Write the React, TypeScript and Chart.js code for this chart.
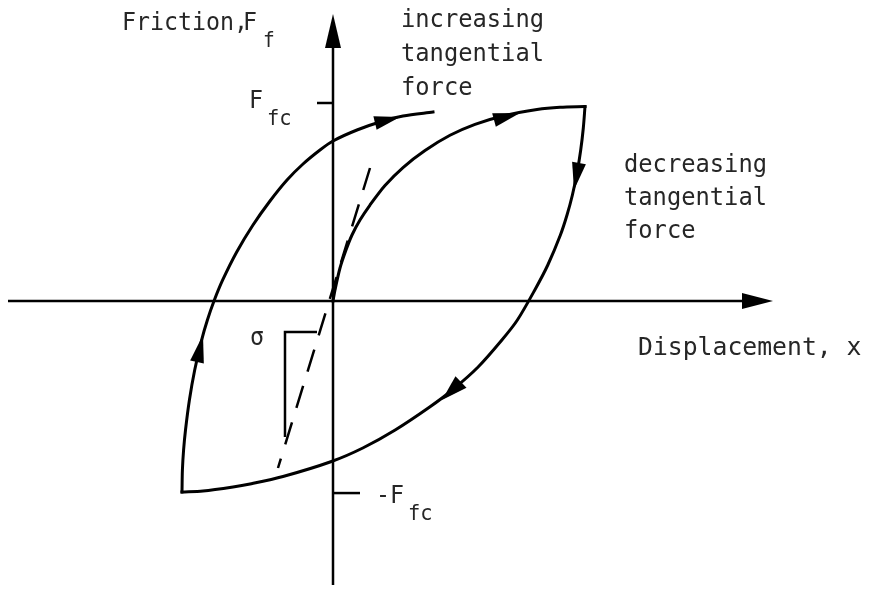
import React, { useEffect, useRef } from "react";
import { Chart, registerables } from "chart.js";
Chart.register(...registerables);

// Normalised units: displacement 1 = reversal point, friction 1 = F_fc
const initialX = [0, 0.0079, 0.0278, 0.0516, 0.0754, 0.1071, 0.1468, 0.2063, 0.2778, 0.3651, 0.4643, 0.5635, 0.6746, 0.8095, 0.9008, 1.0];
const initialY = [0, 0.0556, 0.1667, 0.2576, 0.3333, 0.4091, 0.4848, 0.5833, 0.6742, 0.7601, 0.8369, 0.8924, 0.9343, 0.9672, 0.9788, 0.9823];

const decreasingX = [1.0, 0.9933, 0.983, 0.969, 0.95, 0.9286, 0.9024, 0.8524, 0.8008, 0.7317, 0.6702, 0.5758, 0.4734, 0.3837, 0.2468, 0.1183, -0.006, -0.1984, -0.3294, -0.3968, -0.5159, -0.5992];
const decreasingY = [0.9823, 0.8737, 0.7626, 0.6515, 0.5354, 0.4343, 0.3333, 0.1818, 0.0556, -0.096, -0.197, -0.3333, -0.4495, -0.5354, -0.6515, -0.7424, -0.8106, -0.8864, -0.9242, -0.9394, -0.9596, -0.9646];

const increasingX = [-0.5992, -0.5976, -0.5929, -0.5853, -0.5698, -0.5488, -0.5214, -0.4984, -0.4722, -0.4377, -0.3821, -0.3175, -0.25, -0.1825, -0.119, -0.0516, 0, 0.0952, 0.1984, 0.2778, 0.3968];
const increasingY = [-0.9646, -0.8535, -0.7525, -0.6515, -0.5, -0.3485, -0.197, -0.096, 0, 0.1061, 0.2475, 0.3838, 0.5051, 0.6111, 0.6919, 0.7626, 0.8081, 0.8636, 0.9091, 0.9343, 0.9545];

const tangentX = [0.1468, -0.2183];
const tangentY = [0.6717, -0.8434];

const slopeX = [-0.0635, -0.1905, -0.1905];
const slopeY = [-0.1566, -0.1566, -0.6869];

const xAxisX = [-1.2897, 1.63];
const xAxisY = [0, 0];
const yAxisX = [0, 0];
const yAxisY = [-1.4343, 1.29];

const tickLevels = [1.0, -0.97];
const tickFromX = [-0.0635, 0];
const tickToX = [0, 0.1071];

// arrowheads: tip and a point behind the tip along the curve
const arrowTipX = [0.7421, 0.9563, 0.4325, -0.5159, 0.2659, 0, 1.746];
const arrowTipY = [0.9495, 0.5606, -0.5, -0.1717, 0.9293, 1.4495, 0];
const arrowBackX = [0.6389, 0.9762, 0.5079, -0.5397, 0.1667, 0, 1.623];
const arrowBackY = [0.9141, 0.697, -0.4091, -0.3081, 0.899, 1.2778, 0];
const arrowHalfWidth = [7, 7, 8, 7, 7, 8, 8];

// frame (pixel layout)
const W = 874;
const H = 589;
const OX = 333;
const OY = 301;
const XU = 252;
const YU = 198;

const pts = (xs: number[], ys: number[]) => xs.map((x, i) => ({ x, y: ys[i] }));

const FONT = '"DejaVu Sans Mono", "Liberation Mono", monospace';
const TXT = "#262626";

type Label = { t: string; x: number; y: number; size: number; sx?: number };
const labels: Label[] = [
  { t: "Friction,", x: 122, y: 30, size: 25 },
  { t: "F", x: 243, y: 30, size: 25 },
  { t: "f", x: 263, y: 47, size: 21 },
  { t: "F", x: 249, y: 108, size: 25 },
  { t: "fc", x: 267, y: 125, size: 22 },
  { t: "increasing", x: 401, y: 27, size: 25, sx: 0.95 },
  { t: "tangential", x: 401, y: 61, size: 25, sx: 0.95 },
  { t: "force", x: 401, y: 95, size: 25, sx: 0.95 },
  { t: "decreasing", x: 624, y: 172, size: 25, sx: 0.95 },
  { t: "tangential", x: 624, y: 205, size: 25, sx: 0.95 },
  { t: "force", x: 624, y: 238, size: 25, sx: 0.95 },
  { t: "Displacement, x", x: 638, y: 355, size: 25, sx: 0.99 },
  { t: "σ", x: 250, y: 345, size: 25 },
  { t: "-F", x: 376, y: 503, size: 25 },
  { t: "fc", x: 408, y: 520, size: 22 },
];

const decorPlugin = {
  id: "decor",
  afterDatasetsDraw(chart: any) {
    const ctx = chart.ctx;
    const xs = chart.scales.x;
    const ys = chart.scales.y;
    ctx.save();
    ctx.fillStyle = "#000";
    for (let i = 0; i < arrowTipX.length; i++) {
      const tx = xs.getPixelForValue(arrowTipX[i]);
      const ty = ys.getPixelForValue(arrowTipY[i]);
      const bx = xs.getPixelForValue(arrowBackX[i]);
      const by = ys.getPixelForValue(arrowBackY[i]);
      const dx = tx - bx;
      const dy = ty - by;
      const len = Math.hypot(dx, dy) || 1;
      const nx = -dy / len;
      const ny = dx / len;
      const hw = arrowHalfWidth[i];
      ctx.beginPath();
      ctx.moveTo(tx, ty);
      ctx.lineTo(bx + nx * hw, by + ny * hw);
      ctx.lineTo(bx - nx * hw, by - ny * hw);
      ctx.closePath();
      ctx.fill();
    }
    ctx.fillStyle = TXT;
    ctx.textBaseline = "alphabetic";
    ctx.textAlign = "left";
    for (const l of labels) {
      ctx.save();
      ctx.font = `${l.size}px ${FONT}`;
      ctx.translate(l.x, l.y);
      ctx.scale(l.sx ?? 0.93, 1);
      ctx.fillText(l.t, 0, 0);
      ctx.restore();
    }
    ctx.restore();
  },
};

export default function App() {
  const ref = useRef<HTMLCanvasElement | null>(null);
  useEffect(() => {
    if (!ref.current) return;
    const line = (data: any[], extra: any = {}) => ({
      data,
      showLine: true,
      borderColor: "#000",
      backgroundColor: "#000",
      borderWidth: 3,
      pointRadius: 0,
      fill: false,
      tension: 0,
      ...extra,
    });
    const curve = { tension: 0.3, borderCapStyle: "square", borderJoinStyle: "round" };
    const chart = new Chart(ref.current, {
      type: "scatter",
      data: {
        datasets: [
          line(pts(xAxisX, xAxisY), { borderWidth: 2.5 }),
          line(pts(yAxisX, yAxisY), { borderWidth: 2.5 }),
          line(pts([tickFromX[0], tickToX[0]], [tickLevels[0], tickLevels[0]]), { borderWidth: 2.5 }),
          line(pts([tickFromX[1], tickToX[1]], [tickLevels[1], tickLevels[1]]), { borderWidth: 2.5 }),
          line(pts(initialX, initialY), curve),
          line(pts(decreasingX, decreasingY), curve),
          line(pts(increasingX, increasingY), curve),
          line(pts(tangentX, tangentY), { borderWidth: 2.5, borderDash: [23, 15] }),
          line(pts(slopeX, slopeY), { borderWidth: 2.5 }),
        ],
      },
      options: {
        animation: false,
        responsive: false,
        devicePixelRatio: 1,
        layout: { padding: 0 },
        plugins: { legend: { display: false }, tooltip: { enabled: false } },
        events: [],
        scales: {
          x: { type: "linear", display: false, min: -OX / XU, max: (W - OX) / XU },
          y: { type: "linear", display: false, min: -(H - OY) / YU, max: OY / YU },
        },
      },
      plugins: [decorPlugin],
    });
    return () => chart.destroy();
  }, []);
  return (
    <div style={{ position: "fixed", left: 0, top: 0, width: W, height: H, background: "#fff" }}>
      <canvas ref={ref} width={W} height={H} style={{ width: W, height: H, display: "block" }} />
    </div>
  );
}
